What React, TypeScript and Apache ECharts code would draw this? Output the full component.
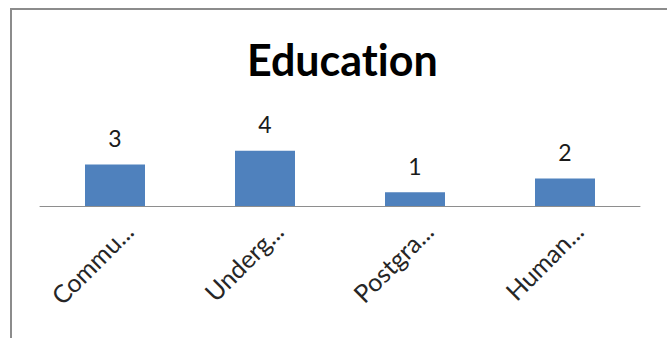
import React, { useEffect, useRef } from "react";
import * as echarts from "echarts";

const titleText = "Education";
const categories = ["Commu...", "Underg...", "Postgra...", "Human..."];
const values = [3, 4, 1, 2];

export default function App() {
  const ref = useRef<HTMLDivElement>(null);
  useEffect(() => {
    if (!ref.current) return;
    const chart = echarts.init(ref.current, null, { renderer: "svg" });
    chart.setOption({
      animation: false,
      backgroundColor: "#ffffff",
      title: {
        text: titleText,
        left: 242,
        top: 33,
        textStyle: {
          fontFamily: "Lato",
          fontWeight: "bold",
          fontSize: 43,
          color: "#000000",
        },
      },
      graphic: [
        {
          type: "rect",
          shape: { x: 11, y: 9, width: 800, height: 500 },
          style: { fill: "none", stroke: "#8c8c8c", lineWidth: 2 },
          silent: true,
        },
      ],
      grid: { left: 40, right: 27, top: 137, bottom: 132 },
      xAxis: {
        type: "category",
        data: categories,
        axisLine: { show: true, lineStyle: { color: "#8e8e8e", width: 1 } },
        axisTick: { show: false },
        axisLabel: {
          rotate: 45,
          interval: 0,
          margin: 7,
          verticalAlign: "top",
          lineHeight: 38,
          fontFamily: "Lato",
          fontSize: 25,
          color: "#262626",
        },
      },
      yAxis: {
        type: "value",
        min: 0,
        max: 5,
        show: false,
        splitLine: { show: false },
      },
      series: [
        {
          type: "bar",
          data: values,
          barWidth: 60,
          itemStyle: { color: "#4f81bd" },
          label: {
            show: true,
            position: "top",
            distance: 15,
            fontFamily: "Lato",
            fontSize: 23,
            color: "#1a1a1a",
          },
        },
      ],
    });
    return () => chart.dispose();
  }, []);
  return (
    <>
      <style>{"#root text { font-variant-ligatures: none !important; font-feature-settings: 'liga' 0 !important; }"}</style>
      <div
        ref={ref}
        style={{ position: "absolute", left: 0, top: 0, width: 667, height: 338 }}
      />
    </>
  );
}
